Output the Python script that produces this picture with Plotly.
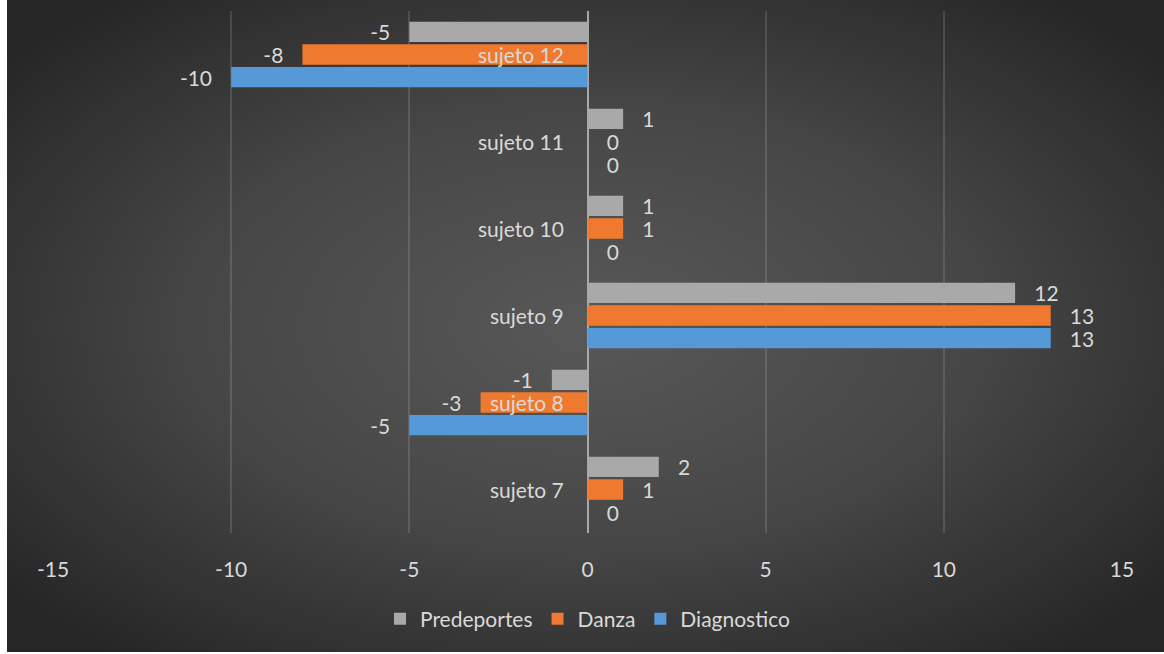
import base64
import plotly.graph_objects as go

categories = ["sujeto 7", "sujeto 8", "sujeto 9", "sujeto 10", "sujeto 11", "sujeto 12"]
predeportes = [2, -1, 12, 1, 1, -5]
danza = [1, -3, 13, 1, 0, -8]
diagnostico = [0, -5, 13, 0, 0, -10]
x_ticks = [-15, -10, -5, 0, 5, 10, 15]
x_tick_text = ["-15", "-10", "-5", "0", "5", "10", "15"]

W, H = 1164, 654
L, R, T, B = 53, 42, 11, 121
pw, ph = W - L - R, H - T - B

FONT = "Lato"
FS = 21
TXT = "#d9d9d9"
NB = "\u00a0" * 3


def labels(vals):
    return [f"{NB}{v}" if v >= 0 else f"{v}{NB}" for v in vals]


fig = go.Figure()
series = [
    ("Diagnostico", diagnostico, "#5699d8"),
    ("Danza", danza, "#ef7a2f"),
    ("Predeportes", predeportes, "#a9a9a9"),
]
for name, vals, col in series:
    fig.add_trace(go.Bar(
        y=categories, x=vals, name=name, orientation="h",
        marker=dict(color=col, line=dict(width=0)),
        text=labels(vals), textposition="outside", constraintext="none",
        cliponaxis=False,
        textfont=dict(family=FONT, size=FS, color=TXT),
    ))

for c in categories:
    fig.add_annotation(x=0, y=c, xref="x", yref="y", text=c, showarrow=False,
                       xanchor="right", yanchor="middle", xshift=-22,
                       font=dict(family=FONT, size=FS, color=TXT))

svg = (
    '<svg xmlns="http://www.w3.org/2000/svg" width="1157" height="652">'
    '<defs><radialGradient id="g" cx="50%" cy="50%" r="65%">'
    '<stop offset="0" stop-color="#585858"/>'
    '<stop offset="0.5" stop-color="#474747"/>'
    '<stop offset="1" stop-color="#262626"/>'
    '</radialGradient></defs>'
    '<rect width="1157" height="652" fill="url(#g)"/></svg>'
)
src = "data:image/svg+xml;base64," + base64.b64encode(svg.encode()).decode()

fig.add_layout_image(
    source=src, xref="paper", yref="paper",
    x=(7 - L) / pw, y=(H - B - 0) / ph,
    sizex=(W - 7) / pw, sizey=652 / ph,
    sizing="stretch", layer="below", xanchor="left", yanchor="top",
)

fig.update_layout(
    width=W, height=H,
    margin=dict(l=L, r=R, t=T, b=B, pad=0),
    paper_bgcolor="white", plot_bgcolor="rgba(0,0,0,0)",
    barmode="group", bargap=0.22, bargroupgap=0.1,
    font=dict(family=FONT, size=FS, color=TXT),
    showlegend=True,
    legend=dict(orientation="h", x=0.5, xanchor="center",
                y=(H - B - 619) / ph, yanchor="middle",
                traceorder="reversed", font=dict(family=FONT, size=FS, color=TXT),
                bgcolor="rgba(0,0,0,0)", itemwidth=30),
    xaxis=dict(range=[-15, 15], tickvals=x_ticks, ticktext=x_tick_text, showgrid=True,
               gridcolor="rgba(255,255,255,0.13)", gridwidth=1.5,
               zeroline=True, zerolinecolor="#a8a8a8", zerolinewidth=2,
               showline=False, ticks="", ticklabelstandoff=22,
               tickfont=dict(family=FONT, size=FS, color=TXT), fixedrange=True),
    yaxis=dict(range=[-0.5, 5.5], showticklabels=False, showgrid=False,
               zeroline=False, showline=False, ticks=""),
)

fig.write_html("out.html")
